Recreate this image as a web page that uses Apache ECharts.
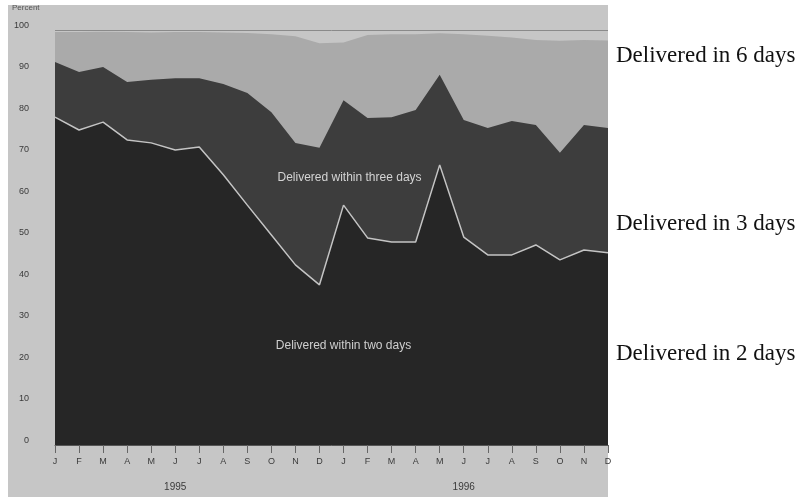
<!DOCTYPE html>
<html>
<head>
<meta charset="utf-8">
<style>
  html, body { margin: 0; padding: 0; background: #ffffff; }
  #chart { width: 806px; height: 497px; }
</style>
<script src="https://cdn.jsdelivr.net/npm/echarts@6/dist/echarts.min.js"></script>
</head>
<body>
<div id="chart"></div>
<script>
// Month ticks for two years of shipments
const months = ['J','F','M','A','M','J','J','A','S','O','N','D',
                'J','F','M','A','M','J','J','A','S','O','N','D'];
const years = ['1995', '1996'];

// Cumulative share of orders (%) delivered within the given number of days
const within2Days = [79.0, 75.9, 77.8, 73.5, 72.8, 71.1, 71.8, 65.1, 57.8, 50.6, 43.4, 38.6,
                     57.8, 49.9, 48.9, 48.9, 67.5, 50.1, 45.8, 45.8, 48.2, 44.6, 47.0, 46.3];
const within3Days = [92.3, 89.9, 91.1, 87.5, 88.0, 88.4, 88.4, 87.0, 84.8, 80.2, 72.8, 71.6,
                     83.1, 78.8, 79.0, 80.7, 89.2, 78.3, 76.4, 78.1, 77.1, 70.4, 77.1, 76.4];
const within6Days = [99.5, 99.5, 99.6, 99.5, 99.4, 99.5, 99.5, 99.4, 99.3, 99.0, 98.5, 96.8,
                     97.0, 98.8, 99.0, 99.0, 99.2, 99.0, 98.6, 98.2, 97.6, 97.4, 97.6, 97.5];

const bandLabels = ['Delivered in 6 days', 'Delivered in 3 days', 'Delivered in 2 days'];
const innerLabels = ['Delivered within three days', 'Delivered within two days'];

const chart = echarts.init(document.getElementById('chart'), null, { renderer: 'canvas' });

const tickFont = { color: '#3a3a3a', fontSize: 9, fontFamily: 'Liberation Sans' };

chart.setOption({
  animation: false,
  backgroundColor: '#ffffff',
  grid: { left: 55, right: 198, top: 30, bottom: 52 },
  xAxis: {
    type: 'category',
    data: months,
    boundaryGap: false,
    axisLine: { show: true, lineStyle: { color: '#555555', width: 1 } },
    axisTick: { show: true, length: 8, lineStyle: { color: '#666666' } },
    axisLabel: Object.assign({ margin: 12, interval: 0 }, tickFont),
    splitLine: { show: false },
    z: 5
  },
  yAxis: {
    type: 'value',
    min: 0,
    max: 100,
    interval: 10,
    axisLine: { show: false },
    axisTick: { show: false },
    axisLabel: Object.assign({ margin: 26, verticalAlign: 'bottom' }, tickFont),
    splitLine: { show: true, lineStyle: { color: '#8a8a8a', width: 1 } }
  },
  series: [
    {
      name: bandLabels[0],
      type: 'line',
      data: within6Days,
      symbol: 'none',
      lineStyle: { width: 0 },
      areaStyle: { color: '#aaaaaa', opacity: 1 },
      z: 2
    },
    {
      name: bandLabels[1],
      type: 'line',
      data: within3Days,
      symbol: 'none',
      lineStyle: { width: 0 },
      areaStyle: { color: '#3d3d3d', opacity: 1 },
      z: 3
    },
    {
      name: bandLabels[2],
      type: 'line',
      data: within2Days,
      symbol: 'none',
      lineStyle: { width: 1.5, color: '#c4c4c4' },
      areaStyle: { color: '#262626', opacity: 1 },
      z: 4
    }
  ]
});

// Captions placed from the axes: years under each twelve-month run,
// band names inside the areas, and the legend-style names at the right
const yearX0 = chart.convertToPixel({ xAxisIndex: 0 }, 5);
const yearX1 = chart.convertToPixel({ xAxisIndex: 0 }, 17);
const inner3 = chart.convertToPixel({ gridIndex: 0 }, [12, 64.5]);
const inner2 = chart.convertToPixel({ gridIndex: 0 }, [12, 24]);

const serifLabel = (text, y) => ({
  type: 'text', x: 616, y: y, z: 10, silent: true,
  style: { text: text, fill: '#111111', font: '23px "Liberation Serif"', verticalAlign: 'middle' }
});
const smallText = (text, x, y, fill, size) => ({
  type: 'text', x: x, y: y, z: 10, silent: true,
  style: { text: text, fill: fill, font: size + 'px "Liberation Sans"', align: 'center', verticalAlign: 'middle' }
});

chart.setOption({
  graphic: [
    {
      type: 'rect', z: -10, silent: true,
      shape: { x: 8, y: 5, width: 600, height: 492 },
      style: { fill: '#c6c6c6' }
    },
    {
      type: 'text', left: 12, top: 4, z: 10, silent: true,
      style: { text: 'Percent', fill: '#555555', font: '8px "Liberation Sans"' }
    },
    smallText(years[0], yearX0, 487, '#3a3a3a', 10),
    smallText(years[1], yearX1, 487, '#3a3a3a', 10),
    smallText(innerLabels[0], inner3[0] + 6, inner3[1], '#d4d4d4', 12),
    smallText(innerLabels[1], inner2[0], inner2[1], '#cfcfcf', 12),
    serifLabel(bandLabels[0], 56),
    serifLabel(bandLabels[1], 224),
    serifLabel(bandLabels[2], 354)
  ]
});
</script>
</body>
</html>
